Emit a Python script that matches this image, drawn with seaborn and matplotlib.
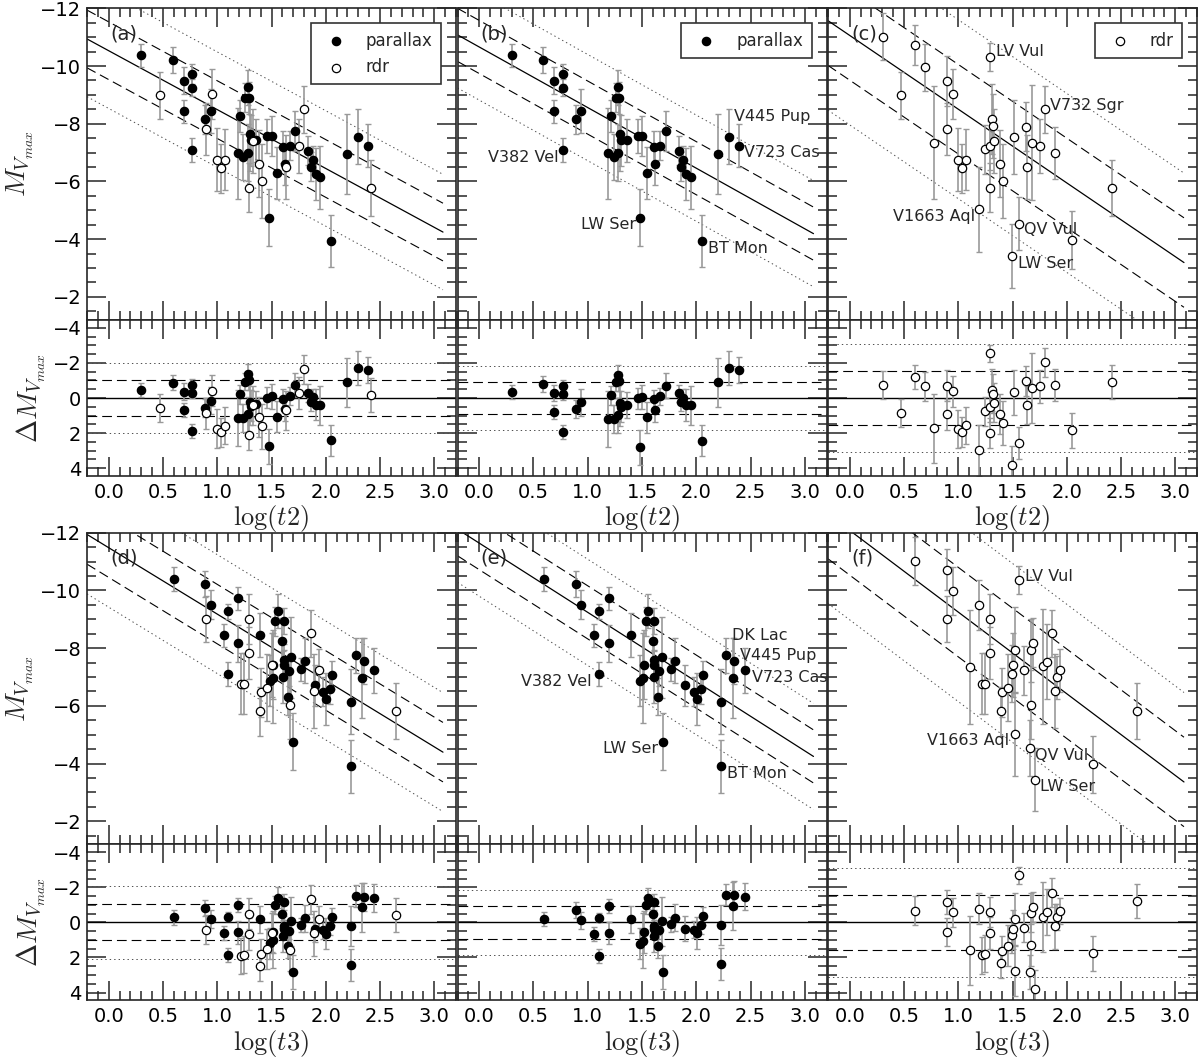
import numpy as np
import matplotlib
matplotlib.use("Agg")
import matplotlib.pyplot as plt
from matplotlib.ticker import MultipleLocator, FormatStrFormatter
import seaborn as sns

# ---- t2, parallax distances (panels a, b) ----
t2_plx = [0.30, 0.59, 0.69, 0.77, 0.77, 0.69, 0.77, 0.89, 0.94, 1.21, 1.19, 1.24,
          1.26, 1.29, 1.28, 1.28, 1.30, 1.31, 1.36, 1.46, 1.50, 1.48, 1.55, 1.61,
          1.62, 1.67, 1.72, 1.84, 1.88, 1.86, 1.91, 1.95, 2.05, 2.20, 2.30, 2.39]
mv_plx_t2 = [-10.38, -10.21, -9.49, -9.72, -9.25, -8.44, -7.09, -8.15, -8.45, -8.27,
             -6.97, -6.86, -8.90, -8.90, -9.26, -7.00, -7.66, -7.42, -7.42, -7.57,
             -7.57, -4.75, -6.30, -7.20, -6.59, -7.24, -7.75, -7.06, -6.73, -6.51,
             -6.25, -6.14, -3.93, -6.95, -7.55, -7.24]
err_plx_t2 = [0.40, 0.45, 0.47, 0.35, 0.30, 0.40, 0.40, 0.50, 0.77, 0.55, 1.58, 0.80,
              0.50, 0.55, 0.60, 1.00, 1.30, 0.90, 0.75, 0.60, 0.70, 1.00, 0.90, 0.55,
              0.70, 0.50, 0.70, 0.50, 0.50, 0.50, 0.90, 1.10, 0.90, 1.40, 0.95, 0.75]

# ---- t2, rdr distances (panel c; flagged ones also in a) ----
t2_rdr = [0.305, 0.60, 0.695, 0.476, 0.896, 0.948, 0.896, 0.777, 0.994, 1.037, 1.073,
          1.195, 1.247, 1.29, 1.29, 1.311, 1.32, 1.332, 1.29, 1.387, 1.41, 1.51,
          1.494, 1.558, 1.622, 1.631, 1.677, 1.756, 1.799, 1.887, 2.05, 2.42]
mv_rdr_t2 = [-11.02, -10.72, -9.95, -8.99, -9.48, -9.02, -7.83, -7.34, -6.76, -6.45,
             -6.76, -5.03, -7.11, -7.24, -10.32, -8.16, -7.93, -7.40, -5.79, -6.62,
             -6.03, -7.53, -3.42, -4.53, -7.90, -6.50, -7.35, -7.23, -8.50, -6.98,
             -3.98, -5.79]
err_rdr_t2 = [0.82, 0.70, 0.82, 0.81, 0.88, 0.87, 0.90, 1.96, 1.10, 0.85, 1.06, 1.46,
              0.84, 0.85, 0.49, 1.20, 1.10, 1.10, 0.85, 1.15, 1.28, 1.28, 1.10, 0.92,
              0.85, 1.10, 2.00, 0.93, 0.82, 0.90, 1.00, 0.97]
rdr_in_a = [0, 0, 0, 1, 0, 1, 1, 0, 1, 1, 1, 0, 0, 0, 0, 0, 0, 1, 1, 1, 1, 0, 0, 0,
            0, 1, 0, 1, 1, 0, 0, 1]

# ---- t3, parallax distances (panels d, e) ----
t3_plx = [0.598, 0.89, 0.942, 1.10, 1.192, 1.061, 1.192, 1.10, 1.396, 1.558, 1.534,
          1.613, 1.60, 1.515, 1.485, 1.512, 1.607, 1.613, 1.613, 1.65, 1.659, 1.68,
          1.695, 1.771, 1.805, 1.90, 1.976, 2.006, 2.04, 2.06, 2.23, 2.23, 2.277,
          2.335, 2.35, 2.445]
mv_plx_t3 = [-10.39, -10.23, -9.51, -9.27, -9.73, -8.44, -8.17, -7.10, -8.46, -9.29,
             -8.93, -8.93, -8.26, -7.43, -6.87, -6.97, -7.01, -7.59, -7.42, -6.32,
             -7.20, -7.68, -4.76, -7.27, -7.57, -6.72, -6.49, -6.23, -6.58, -7.07,
             -6.14, -3.91, -7.75, -6.97, -7.55, -7.24]
err_plx_t3 = [0.41, 0.46, 0.49, 0.25, 0.40, 0.41, 0.64, 0.41, 0.77, 0.60, 0.50, 0.45,
              0.80, 1.20, 0.88, 1.55, 0.90, 0.55, 0.50, 0.65, 0.50, 1.40, 0.98, 0.40,
              0.77, 0.71, 0.50, 0.90, 0.50, 0.50, 1.13, 0.92, 0.60, 1.39, 0.80, 0.78]

# ---- t3, rdr distances (panel f; flagged ones also in d) ----
t3_rdr = [0.604, 0.896, 0.896, 0.948, 1.107, 1.195, 1.216, 1.247, 1.29, 1.29, 1.39,
          1.402, 1.457, 1.494, 1.509, 1.524, 1.521, 1.564, 1.61, 1.659, 1.668, 1.686,
          1.674, 1.704, 1.777, 1.814, 1.86, 1.887, 1.909, 1.939, 2.24, 2.65]
mv_rdr_t3 = [-11.03, -10.72, -9.01, -9.97, -7.35, -9.49, -6.77, -6.77, -9.02, -7.84,
             -5.81, -6.47, -6.63, -7.12, -7.42, -7.94, -5.03, -10.35, -7.23, -4.53,
             -7.92, -8.18, -6.04, -3.44, -7.37, -7.53, -8.51, -6.51, -6.99, -7.23,
             -3.97, -5.81]
err_rdr_t3 = [0.83, 0.70, 0.81, 0.83, 1.97, 0.86, 1.05, 1.05, 0.87, 0.90, 0.85, 0.85,
              1.15, 1.00, 1.10, 1.50, 1.45, 0.48, 0.85, 0.97, 1.10, 0.85, 1.20, 1.10,
              2.00, 1.30, 0.82, 1.28, 0.75, 0.75, 1.00, 0.97]
rdr_in_d = [0, 0, 1, 0, 0, 0, 1, 1, 1, 1, 1, 1, 1, 0, 1, 0, 0, 0, 0, 0, 0, 0, 1, 0,
            0, 0, 1, 1, 0, 1, 0, 1]

# fits: intercept, slope, 1-sigma, 2-sigma
fit_a = (-10.53, 2.04, 1.0, 2.0)
fit_b = (-10.66, 2.10, 0.92, 1.84)
fit_c = (-11.06, 2.555, 1.55, 3.1)
fit_d = (-11.48, 2.30, 1.03, 2.06)
fit_e = (-11.64, 2.40, 0.92, 1.84)
fit_f = (-12.08, 2.83, 1.55, 3.1)

sns.set_theme(style="ticks")
plt.rcParams["font.family"] = ["DejaVu Sans"]
plt.rcParams["mathtext.fontset"] = "cm"
plt.rcParams["axes.linewidth"] = 1.2
plt.rcParams["axes.edgecolor"] = "0.15"
plt.rcParams["lines.scale_dashes"] = False

W, H = 1203, 1059
fig = plt.figure(figsize=(W / 100, H / 100), dpi=100)


def add_ax(l, t, w, h):
    return fig.add_axes([l / W, 1 - (t + h) / H, w / W, h / H])


def ticks(ax, ymaj):
    ax.set_xlim(-0.2, 3.2)
    ax.xaxis.set_major_locator(MultipleLocator(0.5))
    ax.xaxis.set_minor_locator(MultipleLocator(0.1))
    ax.xaxis.set_major_formatter(FormatStrFormatter("%.1f"))
    ax.yaxis.set_major_locator(MultipleLocator(ymaj))
    ax.yaxis.set_minor_locator(MultipleLocator(0.5))
    ax.tick_params(which="both", direction="in", top=True, right=True,
                   colors="0.15", labelcolor="black", labelsize=14)
    ax.tick_params(axis="x", pad=5)
    ax.tick_params(axis="y", pad=4)
    ax.tick_params(which="major", length=13.5, width=1.1)
    ax.tick_params(which="minor", length=6.7, width=1.1)


def points(ax, x, y, e, filled, label=None):
    ax.errorbar(x, y, yerr=e, fmt="none", ecolor="0.6", elinewidth=1.2,
                capsize=2.5, capthick=1.0, zorder=2)
    sns.scatterplot(x=x, y=y, ax=ax, color="black" if filled else "white",
                    edgecolor="black", linewidth=0.9, s=36, zorder=3, label=label,
                    legend=False)


def fit_lines(ax, fit):
    a0, a1, d1, d2 = fit
    xs = np.array([-0.2, 3.08])
    yy = a0 + a1 * xs
    ax.plot(xs, yy, color="black", lw=0.9, zorder=1)
    for s in (-1, 1):
        ax.plot(xs, yy + s * d1, color="black", lw=0.8, ls=(0, (7, 3.6)), zorder=1)
        ax.plot(xs, yy + s * d2, color="0.3", lw=0.7, ls=(0, (1, 2.2)), zorder=1)


def res_lines(ax, fit):
    d1, d2 = fit[2], fit[3]
    ax.axhline(0, color="black", lw=1.0, zorder=1)
    for s in (-1, 1):
        ax.axhline(s * d1, color="black", lw=0.8, ls=(0, (7, 3.6)), zorder=1)
        ax.axhline(s * d2, color="0.3", lw=0.7, ls=(0, (1, 2.2)), zorder=1)


def resid(x, y, fit):
    return np.asarray(y) - (fit[0] + fit[1] * np.asarray(x))


def sel(arr, mask):
    return [v for v, m in zip(arr, mask) if m]


panels = {
    "a": dict(col=0, row=0, fit=fit_a,
              sets=[(t2_plx, mv_plx_t2, err_plx_t2, True, "parallax"),
                    (sel(t2_rdr, rdr_in_a), sel(mv_rdr_t2, rdr_in_a),
                     sel(err_rdr_t2, rdr_in_a), False, "rdr")],
              names=[]),
    "b": dict(col=1, row=0, fit=fit_b,
              sets=[(t2_plx, mv_plx_t2, err_plx_t2, True, "parallax")],
              names=[("V382 Vel", 6, -4, 7, "right"), ("LW Ser", 21, -4, 7, "right"),
                     ("BT Mon", 32, 6, 7, "left"), ("V445 Pup", 34, 5, -20, "left"),
                     ("V723 Cas", 35, 5, 7, "left")]),
    "c": dict(col=2, row=0, fit=fit_c,
              sets=[(t2_rdr, mv_rdr_t2, err_rdr_t2, False, "rdr")],
              names=[("LV Vul", 14, 6, -5, "left"), ("V732 Sgr", 28, 5, -4, "left"),
                     ("V1663 Aql", 11, -4, 7, "right"), ("QV Vul", 23, 5, 6, "left"),
                     ("LW Ser", 22, 6, 8, "left")]),
    "d": dict(col=0, row=1, fit=fit_d,
              sets=[(t3_plx, mv_plx_t3, err_plx_t3, True, "parallax"),
                    (sel(t3_rdr, rdr_in_d), sel(mv_rdr_t3, rdr_in_d),
                     sel(err_rdr_t3, rdr_in_d), False, "rdr")],
              names=[]),
    "e": dict(col=1, row=1, fit=fit_e,
              sets=[(t3_plx, mv_plx_t3, err_plx_t3, True, "parallax")],
              names=[("DK Lac", 32, 6, -20, "left"), ("V445 Pup", 34, 6, -6, "left"),
                     ("V723 Cas", 35, 7, 7, "left"), ("V382 Vel", 7, -7, 7, "right"),
                     ("LW Ser", 22, -5, 7, "right"), ("BT Mon", 31, 6, 7, "left")]),
    "f": dict(col=2, row=1, fit=fit_f,
              sets=[(t3_rdr, mv_rdr_t3, err_rdr_t3, False, "rdr")],
              names=[("LV Vul", 17, 6, -4, "left"), ("V1663 Aql", 16, -6, 7, "right"),
                     ("QV Vul", 19, 5, 7, "left"), ("LW Ser", 23, 5, 7, "left")]),
}

lefts = [87, 457.5, 828]
tops = [8.3, 532.7]
aw, mh, rh = 369, 311.7, 156

for key, p in panels.items():
    L, T = lefts[p["col"]], tops[p["row"]]
    ax = add_ax(L, T, aw, mh)
    axr = add_ax(L, T + mh, aw, rh)

    fit_lines(ax, p["fit"])
    res_lines(axr, p["fit"])
    for x, y, e, filled, lab in p["sets"]:
        points(ax, x, y, e, filled, lab)
        points(axr, x, resid(x, y, p["fit"]), e, filled)
    for name, i, dx, dy, ha in p["names"]:
        x, y = p["sets"][0][0][i], p["sets"][0][1][i]
        ax.annotate(name, (x, y), xytext=(dx * 0.72, -dy * 0.72),
                    textcoords="offset points", ha=ha, va="center", fontsize=11.5,
                    zorder=4)

    ticks(ax, 2)
    ticks(axr, 2)
    ax.set_ylim(-1.2, -12)
    axr.set_ylim(4.45, -4.45)
    ax.tick_params(labelbottom=False)
    ax.set_xlabel("")
    ax.set_ylabel("")
    axr.set_ylabel("")
    axr.set_xlabel(r"$\log(t2)$" if p["row"] == 0 else r"$\log(t3)$",
                   fontsize=19, labelpad=1)
    if p["col"] == 0:
        ax.set_ylabel(r"$M_{V_{max}}$", fontsize=20)
        ax.yaxis.set_label_coords(-0.138, 0.5)
        axr.set_ylabel(r"$\Delta M_{V_{max}}$", fontsize=20)
        axr.yaxis.set_label_coords(-0.106, 0.5)
    else:
        ax.tick_params(labelleft=False)
        axr.tick_params(labelleft=False)

    ax.text(0.062, 0.918, "(%s)" % key, transform=ax.transAxes, fontsize=14,
            ha="left", va="center", zorder=5)
    # legends only in the top row
    if p["row"] == 0:
        leg = ax.legend(loc="upper right", frameon=True, fancybox=False, fontsize=12,
                        handlelength=2, handletextpad=0.8, borderpad=0.5,
                        borderaxespad=0.9, labelspacing=0.5, scatterpoints=1,
                        framealpha=1)
        leg.get_frame().set_edgecolor("0.2")
        leg.get_frame().set_linewidth(1.2)

fig.savefig("out.png", dpi=100)
